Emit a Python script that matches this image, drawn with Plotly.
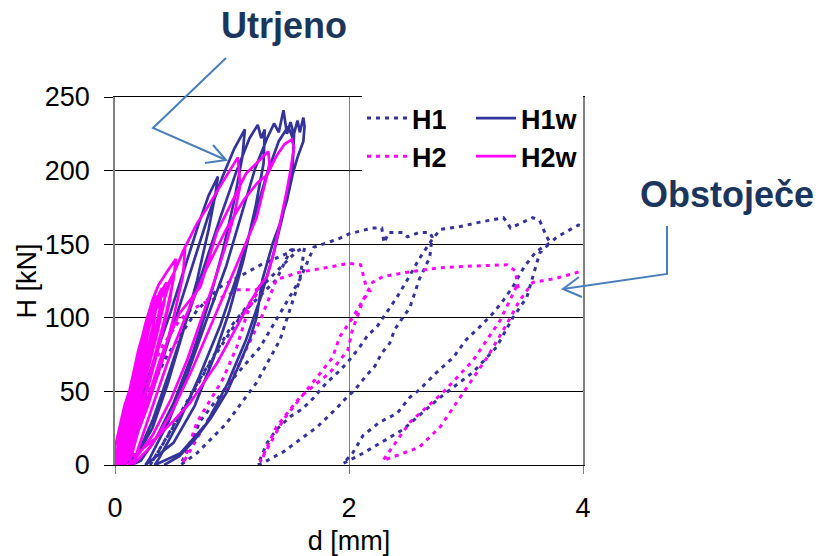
import plotly.graph_objects as go

# ---------------- data (d [mm], H [kN]) ----------------
h1_d = [0.00, 0.20, 0.45, 0.70, 0.90, 1.15, 1.27, 1.45, 1.55,
        1.50, 1.38, 1.09, 0.81, 0.53, 0.30,
        0.45, 0.70, 1.00, 1.30, 1.55, 1.62,
        1.58, 1.41, 1.21, 0.95, 0.70, 0.56,
        0.73, 1.00, 1.24, 1.58, 1.70, 1.85, 1.92, 2.00, 2.20, 2.28, 2.30, 2.34, 2.46, 2.50, 2.60, 2.69, 2.71,
        2.69, 2.60, 2.52, 2.45, 2.39, 2.35, 2.28, 2.22, 2.14, 2.05, 1.98, 1.90, 1.81, 1.73, 1.61, 1.44, 1.30, 1.22,
        1.30, 1.38, 1.50, 1.60, 1.69, 1.81, 1.92, 2.00, 2.09, 2.16, 2.24, 2.32, 2.41, 2.50, 2.60, 2.70, 2.78,
        2.95, 3.12, 3.32, 3.35, 3.38, 3.46, 3.57, 3.63, 3.66, 3.69, 3.72,
        3.63, 3.52, 3.40, 3.26, 3.06, 2.78, 2.46, 2.12, 1.95,
        2.03, 2.12, 2.26, 2.41, 2.52, 2.60, 2.75, 2.89, 3.00, 3.12, 3.23, 3.32, 3.40, 3.50, 3.60, 3.72, 3.78, 3.89, 3.96, 4.00]
h1_h = [0, 35, 75, 105, 121, 132, 137, 143, 147,
        146, 126, 103, 69, 30, 0,
        20, 55, 95, 125, 145, 148,
        126, 85, 56, 28, 8, 0,
        30, 58, 80, 126, 148, 152, 154, 157, 161, 161, 151, 158, 158, 155, 158, 158, 155,
        141, 126, 107, 99, 92, 83, 76, 67, 60, 51, 46, 39, 32, 26, 19, 9, 3, 0,
        15, 24, 33, 38, 45, 56, 64, 71, 80, 88, 94, 103, 114, 126, 140, 152, 160,
        162, 165, 168, 165, 161, 164, 168, 166, 160, 155, 151,
        144, 114, 100, 80, 63, 46, 24, 8, 1,
        8, 20, 29, 35, 46, 51, 63, 73, 85, 94, 103, 112, 121, 135, 145, 151, 155, 160, 163, 162]

h2_d = [0.00, 0.10, 0.25, 0.40, 0.55, 0.64, 0.81, 0.96, 1.04, 1.21, 1.27,
        1.25, 1.13, 1.04, 0.92, 0.70, 0.58,
        0.75, 0.95, 1.10, 1.25, 1.38, 1.58, 1.80, 2.00, 2.10, 2.15, 2.18,
        2.12, 2.03, 1.92, 1.86, 1.64, 1.44, 1.24,
        1.38, 1.58, 1.84, 1.99, 2.03, 2.09, 2.12, 2.20, 2.29, 2.50, 2.78, 3.00, 3.35, 3.42, 3.45,
        3.43, 3.29, 3.06, 2.80, 2.52, 2.29,
        2.60, 2.78, 3.01, 3.18, 3.35, 3.46, 3.57, 3.78, 4.00]
h2_h = [0, 25, 55, 80, 98, 105, 112, 115, 119, 119, 124,
        124, 103, 80, 58, 29, 1,
        25, 50, 75, 100, 126, 131, 134, 137, 136, 120, 118,
        112, 100, 87, 73, 51, 31, 2,
        26, 46, 63, 78, 92, 105, 112, 124, 128, 131, 134, 135, 136, 132, 119,
        121, 98, 71, 49, 29, 3,
        12, 26, 53, 73, 96, 112, 124, 127, 132]

h1w_d = [0.00, 0.10, 0.22, 0.35, 0.48, 0.60, 0.72, 0.80, 0.88,
         0.86, 0.80, 0.70, 0.58, 0.45, 0.32, 0.20, 0.08,
         0.12, 0.25, 0.38, 0.52, 0.66, 0.80, 0.92, 1.02, 1.11,
         1.09, 1.02, 0.92, 0.80, 0.66, 0.50, 0.35, 0.22, 0.14,
         0.18, 0.32, 0.46, 0.60, 0.75, 0.90, 1.04, 1.15, 1.22, 1.25, 1.28,
         1.27, 1.20, 1.10, 0.98, 0.84, 0.68, 0.50, 0.26,
         0.30, 0.46, 0.62, 0.78, 0.95, 1.08, 1.20, 1.30, 1.36, 1.40, 1.44, 1.47, 1.50, 1.53,
         1.52, 1.45, 1.36, 1.25, 1.12, 0.96, 0.78, 0.56, 0.34,
         0.38, 0.55, 0.72, 0.90, 1.05, 1.18, 1.30, 1.40, 1.48, 1.52, 1.56, 1.58, 1.61, 1.62,
         1.61, 1.56, 1.52, 1.47, 1.41, 1.35, 1.30, 1.26, 1.21, 1.15, 1.06, 0.96, 0.82, 0.68, 0.55, 0.42]
h1w_h = [0, 20, 45, 75, 105, 135, 165, 183, 196,
         185, 160, 125, 90, 55, 25, 8, 0,
         8, 35, 65, 100, 135, 170, 196, 215, 228,
         210, 180, 145, 110, 75, 42, 18, 3, 0,
         5, 30, 62, 96, 132, 168, 200, 222, 231, 222, 228,
         205, 175, 140, 105, 72, 40, 15, 0,
         5, 30, 62, 98, 135, 170, 202, 222, 232, 226, 241, 225, 233, 224,
         205, 175, 145, 115, 85, 55, 28, 8, 0,
         5, 30, 60, 95, 130, 165, 198, 220, 230, 222, 234, 226, 236, 230,
         220, 209, 198, 180, 164, 151, 137, 126, 100, 85, 68, 50, 32, 17, 6, 0]

h2w_d = [0.00, 0.00, 0.04, 0.08, 0.13, 0.18, 0.23, 0.27, 0.25, 0.20, 0.14, 0.08, 0.04,
         0.01, 0.05, 0.10, 0.15, 0.20, 0.25, 0.30, 0.28, 0.22, 0.15, 0.08, 0.03,
         0.02, 0.07, 0.12, 0.18, 0.24, 0.30, 0.35, 0.33, 0.27, 0.20, 0.12, 0.05,
         0.00, 0.06, 0.11, 0.16, 0.21, 0.26, 0.31, 0.36, 0.34, 0.28, 0.20, 0.12, 0.05,
         0.05, 0.10, 0.16, 0.22, 0.28, 0.34, 0.40, 0.38, 0.32, 0.24, 0.15, 0.08,
         0.03, 0.09, 0.15, 0.21, 0.27, 0.33, 0.38, 0.44, 0.42, 0.35, 0.26, 0.16, 0.07,
         0.04, 0.10, 0.18, 0.26, 0.34, 0.42, 0.50, 0.47, 0.40, 0.30, 0.18, 0.08,
         0.02, 0.08, 0.14, 0.20, 0.26, 0.32, 0.37, 0.45, 0.52, 0.50, 0.44, 0.36, 0.26, 0.14, 0.06,
         0.06, 0.14, 0.22, 0.30, 0.40, 0.50, 0.60, 0.58, 0.50, 0.40, 0.28, 0.16, 0.09,
         0.08, 0.18, 0.28, 0.38, 0.46, 0.58, 0.70, 0.79, 0.90, 0.98, 1.05, 1.06, 1.07, 1.02, 0.95, 0.85, 0.74, 0.62, 0.48, 0.32, 0.18, 0.12,
         0.25, 0.40, 0.55, 0.73, 0.87, 1.01, 1.12, 1.21, 1.31, 1.32, 1.30, 1.21, 1.07, 0.96, 0.82, 0.66, 0.48, 0.30, 0.15,
         0.30, 0.45, 0.60, 0.78, 0.95, 1.10, 1.22, 1.30, 1.38, 1.45, 1.51, 1.53, 1.50, 1.47, 1.41, 1.35, 1.30, 1.24, 1.15, 1.07, 0.97, 0.87, 0.75, 0.64, 0.50, 0.36, 0.22, 0.10, 0.05]
h2w_h = [0, 12, 26, 40, 52, 66, 82, 95, 82, 62, 38, 15, 0,
         5, 22, 42, 60, 78, 92, 104, 90, 68, 42, 16, 0,
         0, 22, 42, 62, 82, 98, 108, 95, 75, 50, 22, 0,
         0, 28, 46, 63, 80, 96, 108, 115, 100, 80, 52, 24, 2,
         3, 25, 50, 72, 96, 110, 120, 105, 82, 55, 25, 0,
         2, 28, 52, 74, 92, 106, 116, 124, 110, 86, 58, 28, 0,
         0, 30, 58, 85, 105, 118, 128, 112, 88, 58, 25, 0,
         0, 30, 55, 76, 96, 112, 122, 132, 140, 126, 104, 80, 50, 20, 0,
         2, 35, 65, 96, 115, 130, 148, 128, 100, 70, 40, 15, 0,
         3, 40, 75, 102, 122, 145, 164, 175, 190, 200, 209, 200, 190, 170, 150, 125, 100, 72, 45, 20, 5, 0,
         38, 75, 103, 121, 158, 180, 198, 205, 213, 205, 197, 168, 141, 121, 95, 65, 35, 12, 0,
         35, 70, 100, 133, 160, 180, 192, 197, 210, 218, 221, 216, 200, 187, 164, 142, 128, 122, 110, 98, 83, 69, 55, 42, 30, 19, 10, 4, 0]

x_ticks = [0, 2, 4]
y_ticks = [0, 50, 100, 150, 200, 250]
series_names = ["H1", "H2", "H1w", "H2w"]

NAVY = "#333399"
MAGENTA = "#FF00FF"
TXT = "#1B365D"
ARROW = "#4A7EBB"
FONT = "Arial, Liberation Sans, sans-serif"
PAD = "\u00a0\u00a0\u00a0"

# plot area in pixels (for decorations)
W, HGT = 832, 556
L, R, T, B = 115, 249, 97, 91
PW, PH = W - L - R, HGT - T - B


def px(x):
    return (x - L) / PW


def py(y):
    return (HGT - B - y) / PH


fig = go.Figure()
fig.add_trace(go.Scatter(x=h1_d, y=h1_h, mode="lines", name=series_names[0] + PAD, legend="legend",
                         legendgroup="a", line=dict(color=NAVY, width=3, dash="4px,5px")))
fig.add_trace(go.Scatter(x=h2_d, y=h2_h, mode="lines", name=series_names[1] + PAD, legend="legend",
                         legendgroup="b", line=dict(color=MAGENTA, width=3, dash="4px,5px")))
fig.add_trace(go.Scatter(x=h1w_d, y=h1w_h, mode="lines", name=series_names[2], legend="legend2",
                         legendgroup="c", line=dict(color=NAVY, width=2.7)))
fig.add_trace(go.Scatter(x=h2w_d, y=h2w_h, mode="lines", name=series_names[3], legend="legend2",
                         legendgroup="d", line=dict(color=MAGENTA, width=2.7)))

legend_common = dict(font=dict(family=FONT, size=27, color="black", weight="bold"),
                     bgcolor="white", borderwidth=0, traceorder="grouped", tracegroupgap=0,
                     xanchor="left", yanchor="top", itemwidth=40)

fig.update_layout(
    width=W, height=HGT,
    margin=dict(l=L, r=R, t=T, b=B),
    paper_bgcolor="white", plot_bgcolor="white",
    font=dict(family=FONT, size=27, color="black"),
    legend=dict(x=px(362), y=py(94), **legend_common),
    legend2=dict(x=px(471), y=py(94), **legend_common),
    xaxis=dict(range=[0, 4], tickvals=x_ticks, ticktext=[str(v) for v in x_ticks],
               showgrid=True, gridcolor="#808080", gridwidth=1, zeroline=False,
               showline=True, linecolor="black", linewidth=1, mirror=True,
               ticks="outside", ticklen=8, tickcolor="#808080",
               ticklabelstandoff=11, automargin=False,
               title=dict(text="d [mm]", standoff=9, font=dict(size=27))),
    yaxis=dict(range=[0, 250], tickvals=y_ticks, ticktext=[str(v) for v in y_ticks],
               showgrid=True, gridcolor="black", gridwidth=1, zeroline=False,
               showline=True, linecolor="#808080", linewidth=1.5, mirror=True,
               ticks="outside", ticklen=9, tickcolor="black",
               ticklabelstandoff=9, automargin=False,
               title=dict(text="H [kN]", standoff=0, font=dict(size=27))),
    showlegend=True,
)

# white backing behind the two legend columns (hides the gridline there)
fig.add_shape(type="rect", xref="paper", yref="paper", layer="above",
              x0=px(362), x1=px(580), y0=py(180), y1=py(102),
              fillcolor="white", line=dict(width=0))

# decorations: labels and arrows
fig.add_annotation(x=px(284), y=py(25), xref="paper", yref="paper", text="<b>Utrjeno</b>",
                   showarrow=False, font=dict(family=FONT, size=36, color=TXT),
                   xanchor="center", yanchor="middle")
fig.add_annotation(x=px(727), y=py(194), xref="paper", yref="paper", text="<b>Obstoječe</b>",
                   showarrow=False, font=dict(family=FONT, size=36, color=TXT),
                   xanchor="center", yanchor="middle")

arrow_line = dict(color=ARROW, width=2)
fig.add_shape(type="path", xref="paper", yref="paper",
              path=f"M {px(226)} {py(58)} L {px(153)} {py(128)} L {px(226)} {py(160)}",
              line=arrow_line)
fig.add_shape(type="path", xref="paper", yref="paper",
              path=f"M {px(205)} {py(163)} L {px(226)} {py(160)} L {px(213)} {py(145)}",
              line=arrow_line)
fig.add_shape(type="path", xref="paper", yref="paper",
              path=f"M {px(667)} {py(226)} L {px(667)} {py(274)} L {px(563)} {py(289)}",
              line=arrow_line)
fig.add_shape(type="path", xref="paper", yref="paper",
              path=f"M {px(579)} {py(277)} L {px(563)} {py(289)} L {px(582)} {py(297)}",
              line=arrow_line)

fig.write_html("out.html", config={"displayModeBar": False},
               post_script="document.body.style.margin='0';")
